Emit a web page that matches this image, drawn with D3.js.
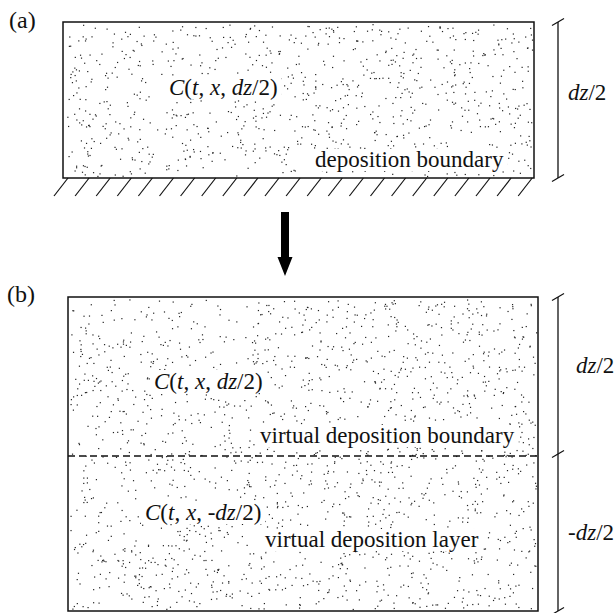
<!DOCTYPE html>
<html>
<head>
<meta charset="utf-8">
<script src="https://cdn.jsdelivr.net/npm/d3@7"></script>
<style>
  body { margin: 0; background: #fff; }
</style>
</head>
<body>
<svg id="fig" width="614" height="613"></svg>
<script>
// Figure contents
var panelTags = ["(a)", "(b)"];
var zDomainA = [0, 0.5];          // panel (a): one half layer, in units of dz
var zDomainB = [-0.5, 0.5];       // panel (b): real + virtual half layers
var dimTicksA = [0, 0.5];
var dimTicksB = [-0.5, 0, 0.5];
var dimLabelsA = ["dz/2"];
var dimLabelsB = ["dz/2", "-dz/2"];
var concLabelsA = ["C(t, x, dz/2)"];
var concLabelsB = ["C(t, x, dz/2)", "C(t, x, -dz/2)"];
var boundaryA = "deposition boundary";
var boundaryB = "virtual deposition boundary";
var layerB = "virtual deposition layer";

var FONT = "'Liberation Serif', 'DejaVu Serif', 'Times New Roman', Times, serif";

var svg = d3.select("#fig");
var rnd = d3.randomLcg(0.4217);   // fixed seed, texture only

// scales
var xA = d3.scaleLinear().domain([0, 1]).range([63, 534]);
var yA = d3.scaleLinear().domain(zDomainA).range([178, 22]);
var xB = d3.scaleLinear().domain([0, 1]).range([68, 538]);
var yB = d3.scaleLinear().domain(zDomainB).range([611, 297]);

var dotLayer = svg.append("g");
var clearLayer = svg.append("g");
var lineLayer = svg.append("g");
var textLayer = svg.append("g").attr("font-family", FONT).attr("fill", "#111");

// stipple texture inside a box
function stipple(x0, x1, y0, y1) {
  var n = Math.round((x1 - x0) * (y1 - y0) / 80);
  var pts = d3.range(n).map(function () {
    return [x0 + 2 + rnd() * (x1 - x0 - 4), y0 + 2 + rnd() * (y1 - y0 - 4)];
  });
  dotLayer.selectAll(null)
    .data(pts)
    .enter()
    .append("rect")
    .attr("x", function (d) { return d[0]; })
    .attr("y", function (d) { return d[1]; })
    .attr("width", 1.2)
    .attr("height", 1.2)
    .attr("fill", "#222");
}

// text with italic letters, white clearance behind it
function label(str, x, y, size, clear) {
  var t = textLayer.append("text")
    .attr("x", x)
    .attr("y", y)
    .attr("font-size", size);
  str.split(/([A-Za-z]+)/).filter(function (s) { return s.length; }).forEach(function (s) {
    var isWord = /^[A-Za-z]+$/.test(s) && s.length <= 2;
    t.append("tspan").attr("font-style", isWord ? "italic" : "normal").text(s);
  });
  if (clear) {
    var b = t.node().getBBox();
    clearLayer.append("rect")
      .attr("x", b.x - 4).attr("y", b.y + 1)
      .attr("width", b.width + 8).attr("height", b.height - 2)
      .attr("fill", "#fff");
  }
  return t;
}

function plain(str, x, y, size) {
  var t = textLayer.append("text")
    .attr("x", x).attr("y", y)
    .attr("font-size", size)
    .text(str);
  var b = t.node().getBBox();
  clearLayer.append("rect")
    .attr("x", b.x - 4).attr("y", b.y + 2)
    .attr("width", b.width + 8).attr("height", b.height - 3)
    .attr("fill", "#fff");
}

// dimension line with slanted ticks
function dimension(x, yScale, ticks) {
  lineLayer.append("line")
    .attr("x1", x).attr("x2", x)
    .attr("y1", yScale(d3.max(ticks))).attr("y2", yScale(d3.min(ticks)))
    .attr("stroke", "#111").attr("stroke-width", 1.3);
  lineLayer.selectAll(null)
    .data(ticks)
    .enter()
    .append("line")
    .attr("x1", x - 6).attr("x2", x + 6)
    .attr("y1", function (d) { return yScale(d) + 3.5; })
    .attr("y2", function (d) { return yScale(d) - 3.5; })
    .attr("stroke", "#111").attr("stroke-width", 1.2);
}

// ---------- panel (a)
stipple(xA(0), xA(1), yA(0.5), yA(0));
lineLayer.append("rect")
  .attr("x", xA(0)).attr("y", yA(0.5))
  .attr("width", xA(1) - xA(0)).attr("height", yA(0) - yA(0.5))
  .attr("fill", "none").attr("stroke", "#111").attr("stroke-width", 1.5);

// ground hatching
lineLayer.selectAll(null)
  .data(d3.range(23))
  .enter()
  .append("line")
  .attr("x1", function (d) { return 68 + d * 21.1; })
  .attr("y1", yA(0))
  .attr("x2", function (d) { return 68 + d * 21.1 - 14; })
  .attr("y2", yA(0) + 18)
  .attr("stroke", "#111").attr("stroke-width", 1.2);

dimension(558, yA, dimTicksA);
label(dimLabelsA[0], 568, 100, 23, false);
label(concLabelsA[0], 169, 95, 23, true);
plain(boundaryA, 315, 167, 23);
textLayer.append("text").attr("x", 9).attr("y", 28).attr("font-size", 24).text(panelTags[0]);

// arrow between panels
lineLayer.append("path")
  .attr("d", "M281,212 L289,212 L289,257 L292.5,257 L285,276 L277.5,257 L281,257 Z")
  .attr("fill", "#000");

// ---------- panel (b)
stipple(xB(0), xB(1), yB(0.5), yB(-0.5));
lineLayer.append("rect")
  .attr("x", xB(0)).attr("y", yB(0.5))
  .attr("width", xB(1) - xB(0)).attr("height", yB(-0.5) - yB(0.5))
  .attr("fill", "none").attr("stroke", "#111").attr("stroke-width", 1.5);
lineLayer.append("line")
  .attr("x1", xB(0)).attr("x2", xB(1))
  .attr("y1", yB(0) + 2).attr("y2", yB(0) + 2)
  .attr("stroke", "#111").attr("stroke-width", 1.4)
  .attr("stroke-dasharray", "7,4");

dimension(558, yB, dimTicksB);
label(dimLabelsB[0], 576, 373, 23, false);
label(dimLabelsB[1], 568, 540, 23, false);
label(concLabelsB[0], 154, 389, 23, true);
label(concLabelsB[1], 145, 520, 23, true);
plain(boundaryB, 260, 443, 23);
plain(layerB, 265, 547, 23);
textLayer.append("text").attr("x", 7).attr("y", 302).attr("font-size", 24).text(panelTags[1]);
</script>
</body>
</html>
